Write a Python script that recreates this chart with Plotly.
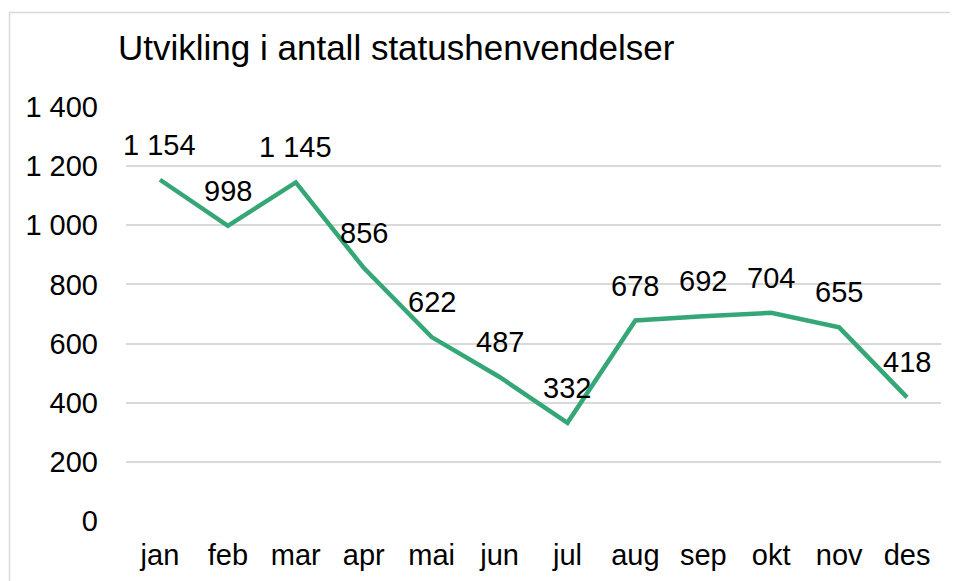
import plotly.graph_objects as go

months = ["jan", "feb", "mar", "apr", "mai", "jun", "jul", "aug", "sep", "okt", "nov", "des"]
values = [1154, 998, 1145, 856, 622, 487, 332, 678, 692, 704, 655, 418]
title_text = "Utvikling i antall statushenvendelser"
y_ticks = [0, 200, 400, 600, 800, 1000, 1200, 1400]

LINE = "#35A777"
GRID = "#D9D9D9"
FONT = "Liberation Sans, Arial, sans-serif"

# page body has an 8px margin; plot area target (window px): x 126..941, y 107..521
OFF = 8
L, R, T, B = 126 - OFF, 941 - OFF, 107 - OFF, 521 - OFF
PW, PH = R - L, B - T

def fmt(v):
    return f"{v:,}".replace(",", " ")

fig = go.Figure()
fig.add_trace(go.Scatter(
    x=months, y=values, mode="lines",
    line=dict(color=LINE, width=4.5),
    hoverinfo="skip", showlegend=False,
))

for m, v in zip(months, values):
    fig.add_annotation(x=m, y=v, text=fmt(v), showarrow=False,
                       yshift=35, font=dict(family=FONT, size=29, color="black"))

fig.add_annotation(xref="paper", yref="paper", x=(116 - OFF - L) / PW, y=(B - (47 - OFF)) / PH,
                   xanchor="left", yanchor="middle", text=title_text, showarrow=False,
                   font=dict(family=FONT, size=35, color="black"))

fig.add_shape(type="rect", xref="paper", yref="paper",
              x0=(9.5 - OFF - L) / PW, x1=1.2, y0=-0.3, y1=(B - (12.5 - OFF)) / PH,
              line=dict(color=GRID, width=1.5), fillcolor="rgba(0,0,0,0)", layer="below")

fig.update_layout(
    width=958, height=581,
    margin=dict(l=L, r=958 - R, t=T, b=581 - B),
    paper_bgcolor="white", plot_bgcolor="white",
    font=dict(family=FONT, size=29, color="black"),
    xaxis=dict(type="category", range=[-0.5, 11.5], showgrid=False, showline=False,
               zeroline=False, ticks="", tickfont=dict(size=29), ticklabelstandoff=14,
               fixedrange=True),
    yaxis=dict(range=[0, 1400], tickvals=y_ticks, ticktext=[fmt(t) for t in y_ticks],
               showgrid=True, gridcolor=GRID, gridwidth=1.5, zeroline=False,
               showline=False, ticks="", tickfont=dict(size=29), ticklabelstandoff=27,
               fixedrange=True),
)

fig.write_html("out.html")
